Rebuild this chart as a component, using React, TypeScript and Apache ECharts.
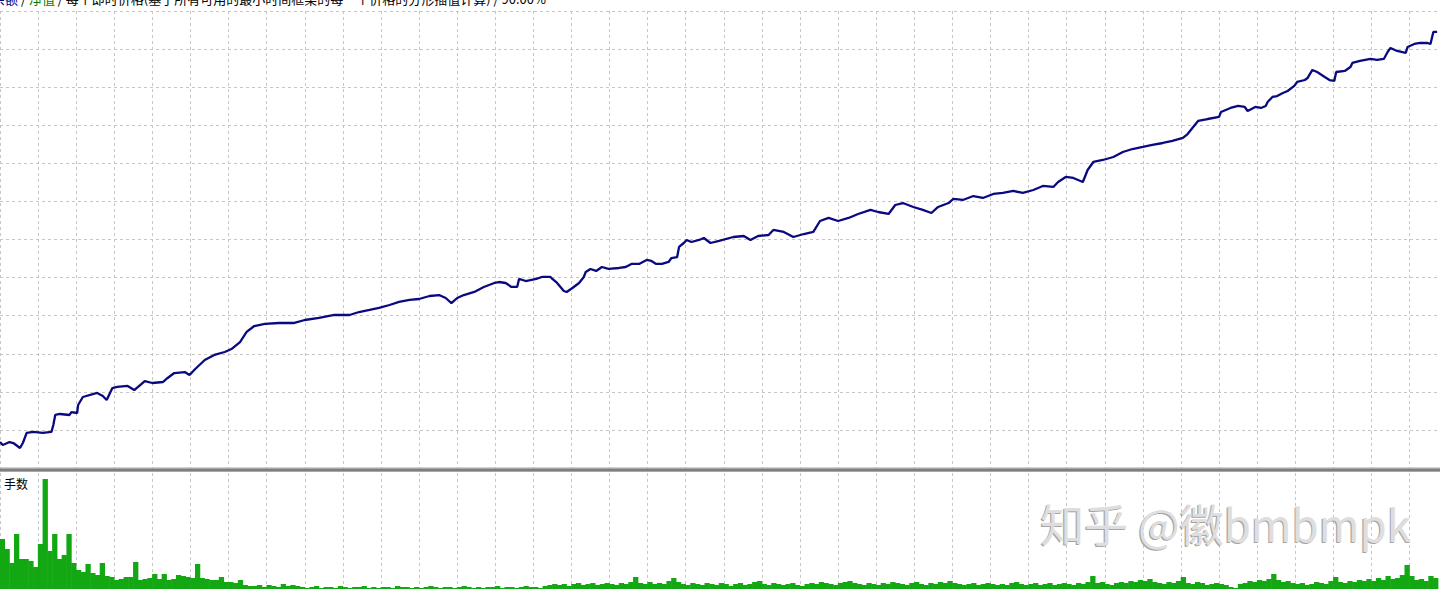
import React, { useEffect, useRef } from 'react';
import * as echarts from 'echarts';

// Balance curve: trade number and account balance
const balanceTrades = [0,3,10,14,21,24,28,35,45,54,56,58,63,73,75,81,82,87,102,108,112,118,123,134,141,145,152,160,171,176,183,194,199,205,215,225,236,243,252,259,267,278,293,309,320,335,351,367,377,388,398,409,419,430,440,451,461,468,474,480,487,498,508,519,524,531,537,543,545,552,563,569,578,580,585,592,595,601,608,613,615,620,626,632,639,650,657,663,671,679,684,689,695,702,705,711,713,718,721,726,734,739,746,755,770,781,788,796,807,812,823,833,844,854,861,870,880,891,901,914,922,933,940,948,959,969,978,985,996,1001,1011,1022,1032,1043,1053,1064,1074,1085,1095,1106,1111,1119,1127,1137,1142,1148,1158,1169,1179,1189,1200,1210,1221,1231,1242,1247,1252,1258,1268,1280,1282,1292,1300,1307,1310,1318,1324,1329,1331,1336,1341,1347,1352,1359,1362,1370,1373,1378,1383,1391,1396,1401,1403,1412,1418,1420,1428,1439,1446,1453,1457,1460,1467,1476,1478,1485,1491,1499,1502,1505,1509];
const balanceValues = [10341,10302,10341,10328,10263,10328,10460,10473,10460,10473,10565,10696,10709,10696,10735,10722,10827,10932,10985,10945,10893,11050,11064,11077,11024,11064,11142,11116,11129,11182,11247,11260,11221,11300,11418,11484,11523,11562,11654,11786,11864,11891,11904,11904,11943,11970,12009,12009,12048,12075,12101,12140,12180,12206,12219,12258,12271,12232,12166,12232,12271,12311,12377,12429,12442,12429,12377,12377,12482,12455,12482,12508,12508,12482,12429,12324,12311,12363,12429,12508,12573,12613,12587,12639,12613,12626,12639,12679,12679,12731,12718,12679,12679,12705,12757,12770,12902,12954,12994,12967,12994,13020,12954,12981,13033,13046,12994,13046,13059,13125,13099,13033,13072,13099,13243,13283,13243,13283,13335,13388,13361,13335,13453,13479,13427,13388,13348,13427,13479,13532,13519,13571,13545,13598,13611,13637,13611,13650,13703,13690,13755,13821,13808,13755,13913,14018,14044,14083,14149,14188,14215,14241,14267,14294,14333,14385,14464,14556,14582,14609,14674,14727,14753,14740,14687,14740,14727,14753,14806,14871,14884,14924,14950,15016,15068,15094,15121,15226,15199,15134,15094,15081,15199,15213,15265,15318,15344,15370,15357,15370,15462,15515,15475,15449,15528,15567,15580,15580,15567,15725,15725];

// Lots traded (in hundredths of a lot), one value per bucket of 5 trades
const volumeBucket = 5;
const volumeLots = [
  50,40,26,55,30,30,28,22,45,110,
  38,55,30,34,55,26,19,17,25,16,
  14,26,13,12,9,10,12,12,27,9,
  10,11,15,10,15,9,10,14,13,12,
  11,25,11,10,9,9,12,7,7,6,
  9,4,3,3,4,2,4,3,2,5,
  3,4,3,
  2,1,2,3,1,2,2,1,3,2,1,2,2,3,1,2,1,2,2,1,3,2,2,1,2,1,2,3,2,1,2,2,1,2,3,2,1,2,1,2,2,3,1,2,2,1,2,3,2,2,1,
  3,4,5,4,5,3,5,6,4,5,
  6,4,5,6,5,4,6,5,7,12,
  6,5,7,5,6,5,8,11,7,5,
  4,6,5,4,6,5,4,6,5,3,
  5,6,4,5,7,8,5,4,6,5,
  4,5,6,4,3,5,6,5,7,6,
  5,4,6,7,8,6,5,4,6,5,
  4,6,5,7,6,5,4,6,7,5,
  4,6,5,7,6,8,6,5,4,5,
  6,4,5,6,5,4,5,4,6,7,
  5,4,5,6,4,5,6,4,5,6,
  5,4,6,5,7,13,6,7,5,4,
  6,7,6,8,7,9,8,10,7,6,
  5,7,6,8,12,6,5,7,6,4,
  5,6,5,4,2,1,5,6,8,7,
  9,8,10,15,9,7,8,6,5,6,
  4,5,7,6,5,8,12,7,6,8,
  7,9,8,10,8,11,9,13,10,11,
  14,24,13,9,10,8,13,11
];

const titleRich = '{a|余额} / {b|净值} / 每个即时价格(基于所有可用的最小时间框架的每一个价格的分形插值计算) / 90.00%';
const volumeLabel = '手数';
const watermark = '知乎 @徽bmbmpk';

export default function App() {
  const ref = useRef<HTMLDivElement>(null);
  useEffect(() => {
    if (!ref.current) return;
    const chart = echarts.init(ref.current, null, { renderer: 'svg' });
    const n = Math.min(balanceTrades.length, balanceValues.length);
    const balanceData: number[][] = [];
    for (let i = 0; i < n; i++) balanceData.push([balanceTrades[i], balanceValues[i]]);
    const volumeData = volumeLots.map((v, i) => [i * volumeBucket + volumeBucket / 2, v]);

    const gridLine = { show: true, lineStyle: { color: '#c6c6c6', type: [3, 3] as any, width: 1 } };
    const hidden = { axisLine: { show: false }, axisTick: { show: false }, axisLabel: { show: false } };
    const xBase: any = { type: 'value', min: 0, max: 1512, interval: 40, ...hidden, splitLine: gridLine };
    const font = '"Noto Sans CJK SC", "Noto Sans", sans-serif';

    chart.setOption({
      animation: false,
      backgroundColor: '#ffffff',
      grid: [
        { left: -0.6, top: 11, width: 1442.8, height: 457 },
        { left: -0.6, top: 473, width: 1442.8, height: 116 },
      ],
      xAxis: [
        { ...xBase, gridIndex: 0 },
        { ...xBase, gridIndex: 1 },
      ],
      yAxis: [
        { type: 'value', gridIndex: 0, min: 10000, max: 16000, interval: 500, ...hidden, splitLine: gridLine },
        { type: 'value', gridIndex: 1, min: 0, max: 116, ...hidden, splitLine: { show: false } },
      ],
      series: [
        {
          type: 'bar', xAxisIndex: 1, yAxisIndex: 1, data: volumeData,
          barWidth: 5.3, itemStyle: { color: '#13a813' }, z: 2,
        },
        {
          type: 'line', xAxisIndex: 0, yAxisIndex: 0, data: balanceData,
          symbol: 'none', lineStyle: { color: '#0a0a80', width: 2.3 }, z: 3,
        },
      ],
      graphic: [
        { type: 'rect', z: 100, shape: { x: 0, y: 467.5, width: 1440, height: 4.5 }, style: { fill: '#a8a8a8' } },
        { type: 'line', z: 101, shape: { x1: 0, y1: 470, x2: 1440, y2: 470 }, style: { stroke: '#555555', lineWidth: 1.2 } },
        {
          type: 'text', z: 100, x: -8, y: -2,
          style: {
            text: titleRich, font: `13px ${font}`, fill: '#000000', verticalAlign: 'middle',
            rich: {
              a: { fill: '#000080', font: `13px ${font}` },
              b: { fill: '#008000', font: `13px ${font}` },
            },
          },
        },
        {
          type: 'text', z: 100, x: 4, y: 483,
          style: { text: volumeLabel, font: `12px ${font}`, fill: '#000000', verticalAlign: 'middle' },
        },
        {
          type: 'text', z: 100, x: 1039, y: 524,
          style: { text: watermark, font: `44px ${font}`, fill: '#a6a6a6', verticalAlign: 'middle' },
        },
        {
          type: 'text', z: 101, x: 1040.2, y: 523.2,
          style: { text: watermark, font: `44px ${font}`, fill: '#dedede', verticalAlign: 'middle' },
        },
      ],
    });
    return () => chart.dispose();
  }, []);
  return <div ref={ref} style={{ position: 'absolute', left: 0, top: 0, width: 1440, height: 589 }} />;
}
